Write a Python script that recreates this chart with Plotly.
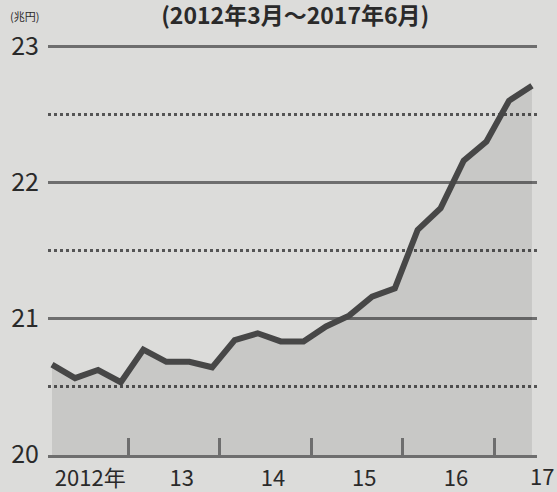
import plotly.graph_objects as go

# Quarterly values (兆円), March 2012 – June 2017
dates = [
    "2012-03-01", "2012-06-01", "2012-09-01", "2012-12-01",
    "2013-03-01", "2013-06-01", "2013-09-01", "2013-12-01",
    "2014-03-01", "2014-06-01", "2014-09-01", "2014-12-01",
    "2015-03-01", "2015-06-01", "2015-09-01", "2015-12-01",
    "2016-03-01", "2016-06-01", "2016-09-01", "2016-12-01",
    "2017-03-01", "2017-06-01",
]
values = [
    20.66, 20.56, 20.62, 20.53,
    20.77, 20.68, 20.68, 20.64,
    20.84, 20.89, 20.83, 20.83,
    20.94, 21.02, 21.16, 21.22,
    21.65, 21.81, 22.16, 22.30,
    22.60, 22.71,
]

year_label_pos = ["2012-08-01", "2013-08-01", "2014-08-01", "2015-08-01", "2016-08-01"]
year_label_text = ["2012年", "13", "14", "15", "16"]
last_label_text = "17"

y_ticks = [20, 21, 22, 23]

title_text = "(2012年3月～2017年6月)"
unit_text = "(兆円)"

FONT = "Noto Sans CJK JP"
BG = "#dcdcda"
GRID = "#6e6e6e"
LINE = "#474747"
TEXT = "#2a2a2a"

fig = go.Figure()
fig.add_trace(go.Scatter(
    x=dates, y=values, mode="lines",
    line=dict(color=LINE, width=6),
    fill="tozeroy", fillcolor="rgba(0,0,0,0.09)",
    hoverinfo="skip", showlegend=False,
))

fig.update_layout(
    template="none",
    width=557, height=492,
    margin=dict(l=48, r=20, t=45, b=37, pad=0),
    paper_bgcolor=BG, plot_bgcolor=BG,
    font=dict(family=FONT, color=TEXT),
    title=dict(
        text=title_text, x=0.53, xanchor="center",
        y=1 - 16 / 492, yanchor="middle", yref="container",
        font=dict(family=FONT, size=23, color=TEXT, weight="bold"),
    ),
    xaxis=dict(
        type="date", automargin=False,
        range=["2012-02-14", "2017-06-21"],
        showgrid=False, zeroline=False,
        showline=True, linecolor=GRID, linewidth=3,
        tickmode="array", tickvals=year_label_pos, ticktext=year_label_text,
        ticks="", ticklabelstandoff=2,
        tickfont=dict(family=FONT, size=22, color=TEXT),
        minor=dict(ticks="inside", ticklen=17, tickwidth=2.5, tickcolor=GRID,
                   dtick="M12", tick0="2013-01-01", showgrid=False),
    ),
    yaxis=dict(
        automargin=False,
        range=[19.995, 23.01],
        tickmode="array", tickvals=y_ticks,
        showgrid=True, gridcolor=GRID, gridwidth=3,
        zeroline=False, showline=False, ticks="",
        ticklabelstandoff=8,
        tickfont=dict(family=FONT, size=25, color=TEXT),
        minor=dict(dtick=0.5, tick0=20, showgrid=True, gridcolor="#555555",
                   gridwidth=2.5, griddash="dot"),
    ),
    annotations=[
        dict(text=last_label_text, x=dates[-1], xref="x", xshift=10,
             y=0, yref="paper", yanchor="top", yshift=-2,
             showarrow=False, font=dict(family=FONT, size=22, color=TEXT)),
        dict(text=unit_text, x=-40 / 489, xref="paper", xanchor="left",
             y=1 + 29 / 410, yref="paper", yanchor="middle",
             showarrow=False, font=dict(family=FONT, size=11, color=TEXT)),
    ],
)

fig.write_html(
    "out.html",
    config={"displayModeBar": False},
    post_script="document.body.style.margin='0';document.body.style.overflow='hidden';",
)
